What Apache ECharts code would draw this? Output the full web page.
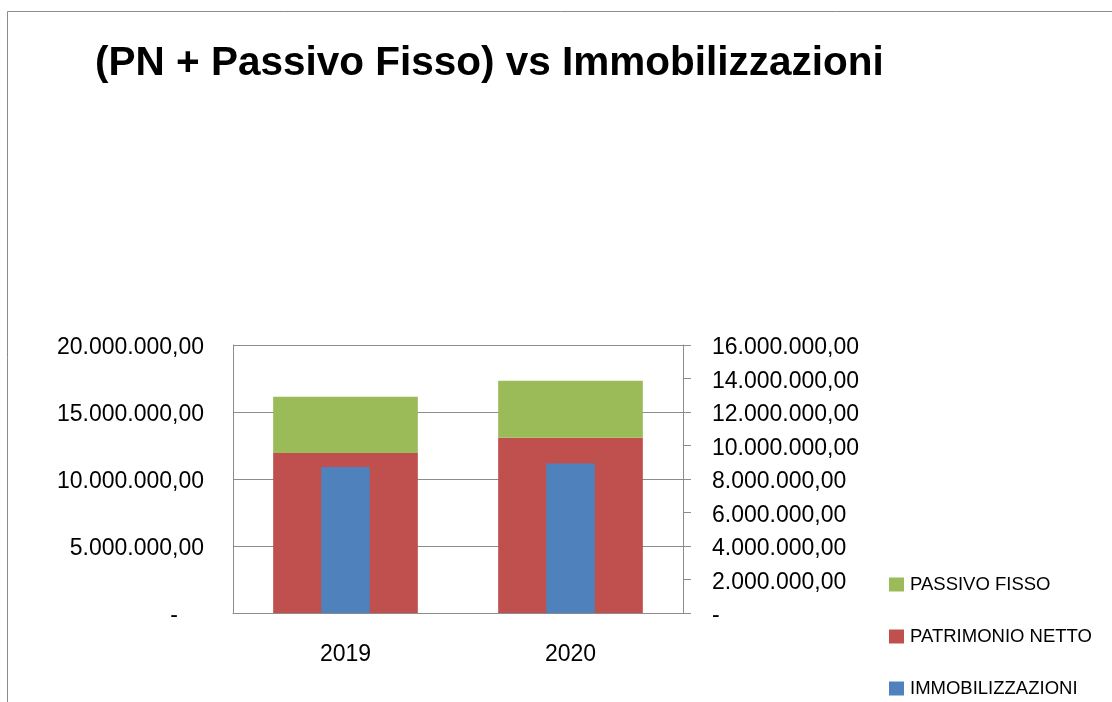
<!DOCTYPE html>
<html>
<head>
<meta charset="utf-8">
<script src="https://cdn.jsdelivr.net/npm/echarts@6/dist/echarts.min.js"></script>
<style>
html,body{margin:0;padding:0;background:#fff;}
#chart{width:1112px;height:702px;}
</style>
</head>
<body>
<div id="chart"></div>
<script>
var categories = ['2019', '2020'];
var passivoFisso = [4190000, 4260000];
var patrimonioNetto = [11940000, 13070000];
var immobilizzazioni = [8720000, 8920000];
var leftTicks = [0, 20000000, 5000000];
var rightTicks = [0, 16000000, 2000000];

function fmt(v) {
  var s = Math.round(v).toString();
  var out = '';
  while (s.length > 3) { out = '.' + s.slice(-3) + out; s = s.slice(0, -3); }
  return s + out + ',00';
}

var FONT = 'Liberation Sans';
var AX = '#8c8c8c';
var chart = echarts.init(document.getElementById('chart'));
chart.setOption({
  animation: false,
  textStyle: { fontFamily: FONT },
  title: {
    text: '(PN + Passivo Fisso) vs Immobilizzazioni',
    left: 95, top: 43, padding: 0,
    textStyle: { fontFamily: FONT, fontWeight: 'bold', fontSize: 40.5, color: '#000' }
  },
  graphic: [{
    type: 'rect', silent: true,
    shape: { x: 7.5, y: 11.5, width: 1300, height: 900 },
    style: { fill: 'none', stroke: AX, lineWidth: 1 }
  }],
  legend: {
    orient: 'vertical', left: 889, top: 575, padding: 0,
    itemWidth: 15, itemHeight: 14, itemGap: 33,
    icon: 'rect',
    textStyle: { fontFamily: FONT, fontSize: 18.5, color: '#000', padding: [0, 0, 0, 1] },
    data: ['PASSIVO FISSO', 'PATRIMONIO NETTO', 'IMMOBILIZZAZIONI']
  },
  grid: { left: 233, right: 429, top: 345, bottom: 89, containLabel: false },
  xAxis: [{
    type: 'category', data: categories,
    axisLine: { lineStyle: { color: AX } },
    axisTick: { show: false },
    axisLabel: { fontFamily: FONT, fontSize: 23, color: '#000', margin: 30 }
  }, {
    type: 'category', data: categories, show: false
  }],
  yAxis: [{
    type: 'value', min: leftTicks[0], max: leftTicks[1], interval: leftTicks[2],
    position: 'left',
    axisLine: { show: true, lineStyle: { color: AX } },
    axisTick: { show: false },
    splitLine: { show: true, lineStyle: { color: AX } },
    axisLabel: {
      fontFamily: FONT, fontSize: 23, color: '#000', margin: 29, padding: [6, 0, 0, 0],
      formatter: function (v) { return v === 0 ? '{d|-}' : fmt(v); },
      rich: { d: { fontFamily: FONT, fontSize: 23, color: '#000', padding: [0, 26, 0, 0] } }
    }
  }, {
    type: 'value', min: rightTicks[0], max: rightTicks[1], interval: rightTicks[2],
    position: 'right',
    axisLine: { show: true, lineStyle: { color: AX } },
    axisTick: { show: true, length: 8, inside: false, lineStyle: { color: AX } },
    splitLine: { show: false },
    axisLabel: {
      fontFamily: FONT, fontSize: 23, color: '#000', margin: 29,
      formatter: function (v) { return '{r|' + (v === 0 ? '-' : fmt(v)) + '}'; },
      rich: { r: { fontFamily: FONT, fontSize: 23, color: '#000', padding: [6, 0, 0, 0] } }
    }
  }],
  series: [{
    name: 'PATRIMONIO NETTO', type: 'bar', stack: 'tot',
    xAxisIndex: 0, yAxisIndex: 0, barWidth: '64.3%',
    itemStyle: { color: '#C0504D' }, data: patrimonioNetto
  }, {
    name: 'PASSIVO FISSO', type: 'bar', stack: 'tot',
    xAxisIndex: 0, yAxisIndex: 0, barWidth: '64.3%',
    itemStyle: { color: '#9BBB59' }, data: passivoFisso
  }, {
    name: 'IMMOBILIZZAZIONI', type: 'bar',
    xAxisIndex: 1, yAxisIndex: 1, barWidth: '21.6%',
    itemStyle: { color: '#4F81BD' }, data: immobilizzazioni
  }]
});
</script>
</body>
</html>
